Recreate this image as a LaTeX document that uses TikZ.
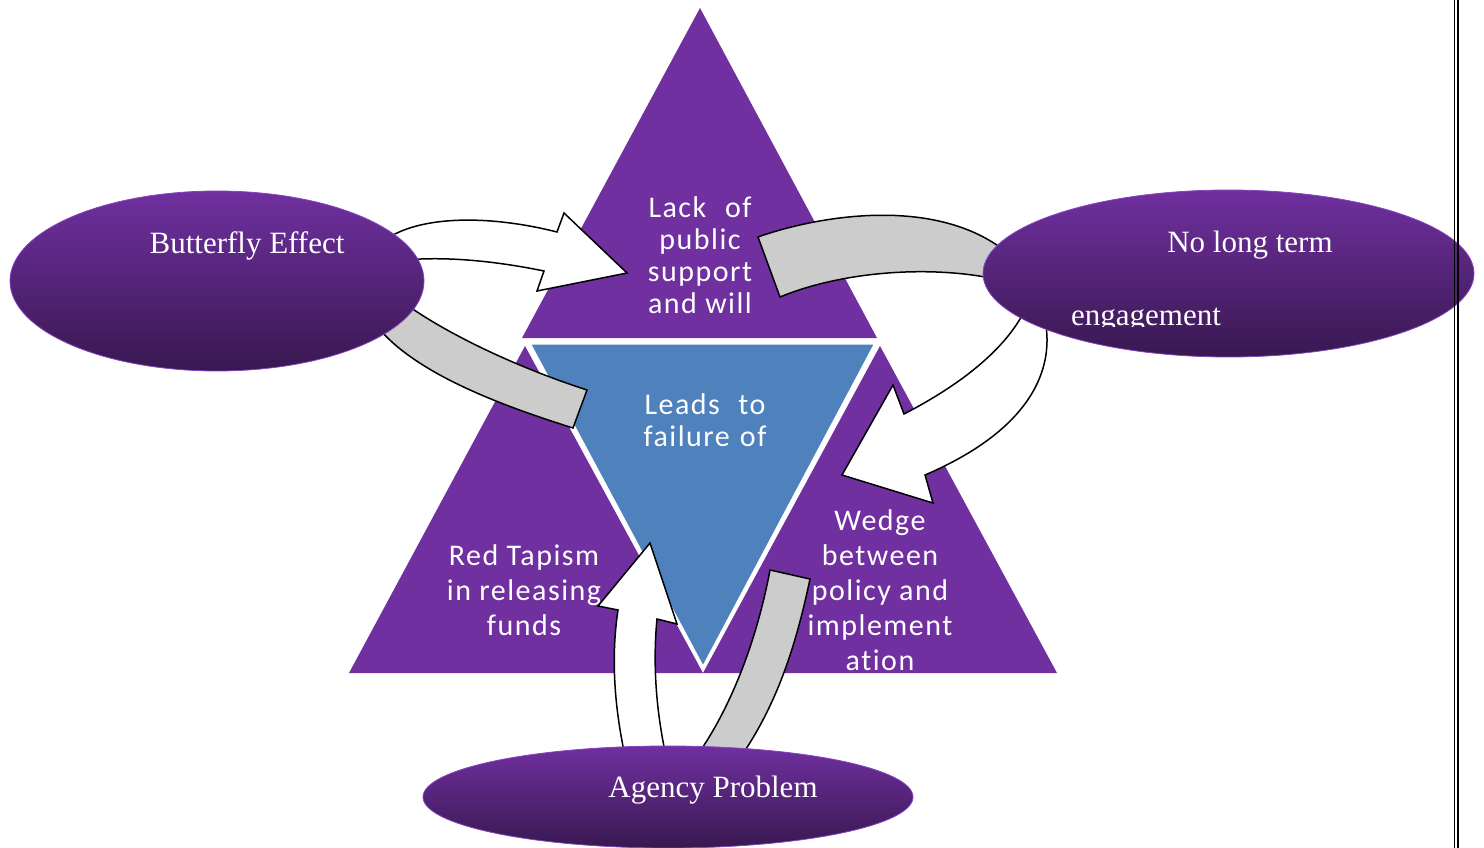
\documentclass[tikz,border=0pt]{standalone}
\usepackage{fontspec}
\setmainfont{Liberation Serif}
\newfontfamily\calib[LetterSpace=5, Ligatures={NoCommon,NoContextual}]{Carlito}
\usetikzlibrary{shapes.geometric}

\definecolor{tripurple}{HTML}{7030A0}
\definecolor{triblue}{HTML}{4F81BD}
\definecolor{ovaltop}{HTML}{7030A0}
\definecolor{ovalmid}{HTML}{58267F}
\definecolor{ovalbot}{HTML}{381850}
\definecolor{ovaledge}{HTML}{8545C0}
\definecolor{bandgray}{HTML}{CCCCCC}

\tikzset{
  tri/.style={fill=tripurple, draw=none},
  midtri/.style={fill=triblue, draw=white, line width=3pt, line join=miter},
  oval/.style={ellipse, inner sep=0pt, top color=ovaltop, middle color=ovalmid,
               bottom color=ovalbot, draw=ovaledge, line width=0.8pt},
  blockarrow/.style={fill=white, draw=black, line width=1.5pt, line join=miter},
  band/.style={fill=bandgray, draw=black, line width=1.5pt, line join=miter},
  tritext/.style={text=white, align=center, inner sep=0pt, anchor=north},
  ovaltext/.style={text=white, inner sep=0pt, anchor=base,
                   font=\fontsize{31}{36}\selectfont},
}

\begin{document}
\begin{tikzpicture}[x=1pt,y=-1pt]
\useasboundingbox (0,0) rectangle (1484,848);

% four parts of the pyramid
\fill[tri] (700,8) -- (522,338) -- (877,338) -- cycle;
\fill[tri] (525,346) -- (349,673) -- (703,673) -- cycle;
\fill[tri] (880,346) -- (703,673) -- (1057,673) -- cycle;
\draw[midtri] (529,343) -- (876,343) -- (703,668) -- cycle;

% curved white arrow towards the top block
\draw[blockarrow] (385,240) .. controls (420,215) and (490,215) .. (557,232)
  -- (564,213) -- (627,273) -- (537,291) -- (544,271)
  .. controls (500,262) and (450,256) .. (405,260) -- cycle;

% grey band into the centre block
\draw[band] (400,300) .. controls (440,330) and (510,365) .. (587,390)
  -- (573,428) .. controls (500,405) and (420,375) .. (380,330) -- cycle;

% grey band from the right oval to the top block
\draw[band] (758,237) .. controls (820,215) and (940,195) .. (1010,255)
  -- (1000,280) .. controls (930,264) and (840,272) .. (780,297) -- cycle;

% curved white arrow down to the right block
\draw[blockarrow] (1045,320) .. controls (1055,370) and (1030,430) .. (925,475)
  -- (933,503) -- (842,475) -- (893,385) -- (904,414)
  .. controls (960,385) and (1005,350) .. (1025,310) -- cycle;

% white arrow up from the bottom oval
\draw[blockarrow] (627,765) .. controls (612,700) and (612,650) .. (618,610)
  -- (598,606) -- (650,543) -- (677,624) -- (657,619)
  .. controls (653,660) and (655,710) .. (668,765) -- cycle;

% grey band from the bottom oval to the right block
\draw[band] (770,570) -- (810,579) .. controls (795,650) and (775,710) .. (735,765)
  -- (690,765) .. controls (725,720) and (755,650) .. (770,570) -- cycle;

% ovals
\node[oval, minimum width=414pt, minimum height=180pt] (butterfly) at (217,281) {};
\node[oval, minimum width=491pt, minimum height=167pt] (nolong) at (1228.5,273.5) {};
\node[oval, minimum width=490pt, minimum height=102pt] (agency) at (668,797) {};

\node[ovaltext] (butterflytxt) at (247,253) {Butterfly Effect};
\node[ovaltext] (nolongtxt) at (1250,252) {No long term};
\begin{scope}
  \clip (1000,290) rectangle (1300,326.5);
  \node[ovaltext] (engagetxt) at (1146,325) {engagement};
\end{scope}
\node[ovaltext] (agencytxt) at (713,797) {Agency Problem};

% pyramid captions
\node[tritext, font=\calib\fontsize{30}{32}\selectfont] (toptxt) at (700,196)
  {\makebox[103pt]{Lack\hfill of}\\public\\support\\and will};
\node[tritext, font=\calib\fontsize{30}{32}\selectfont] (midtxt) at (705,393)
  {\makebox[121pt]{Leads\hfill to}\\\makebox[123pt]{failure\hfill of}};
\node[tritext, font=\calib\fontsize{30}{35}\selectfont] (lefttxt) at (524,544)
  {Red Tapism\\in releasing\\funds};
\node[tritext, font=\calib\fontsize{30}{35}\selectfont] (righttxt) at (880,509)
  {Wedge\\between\\policy and\\implement\\ation};

% page frame rule on the right
\draw[line width=1.3pt] (1454.7,0) -- (1454.7,848);
\draw[line width=2pt] (1458.3,0) -- (1458.3,848);
\end{tikzpicture}
\end{document}
